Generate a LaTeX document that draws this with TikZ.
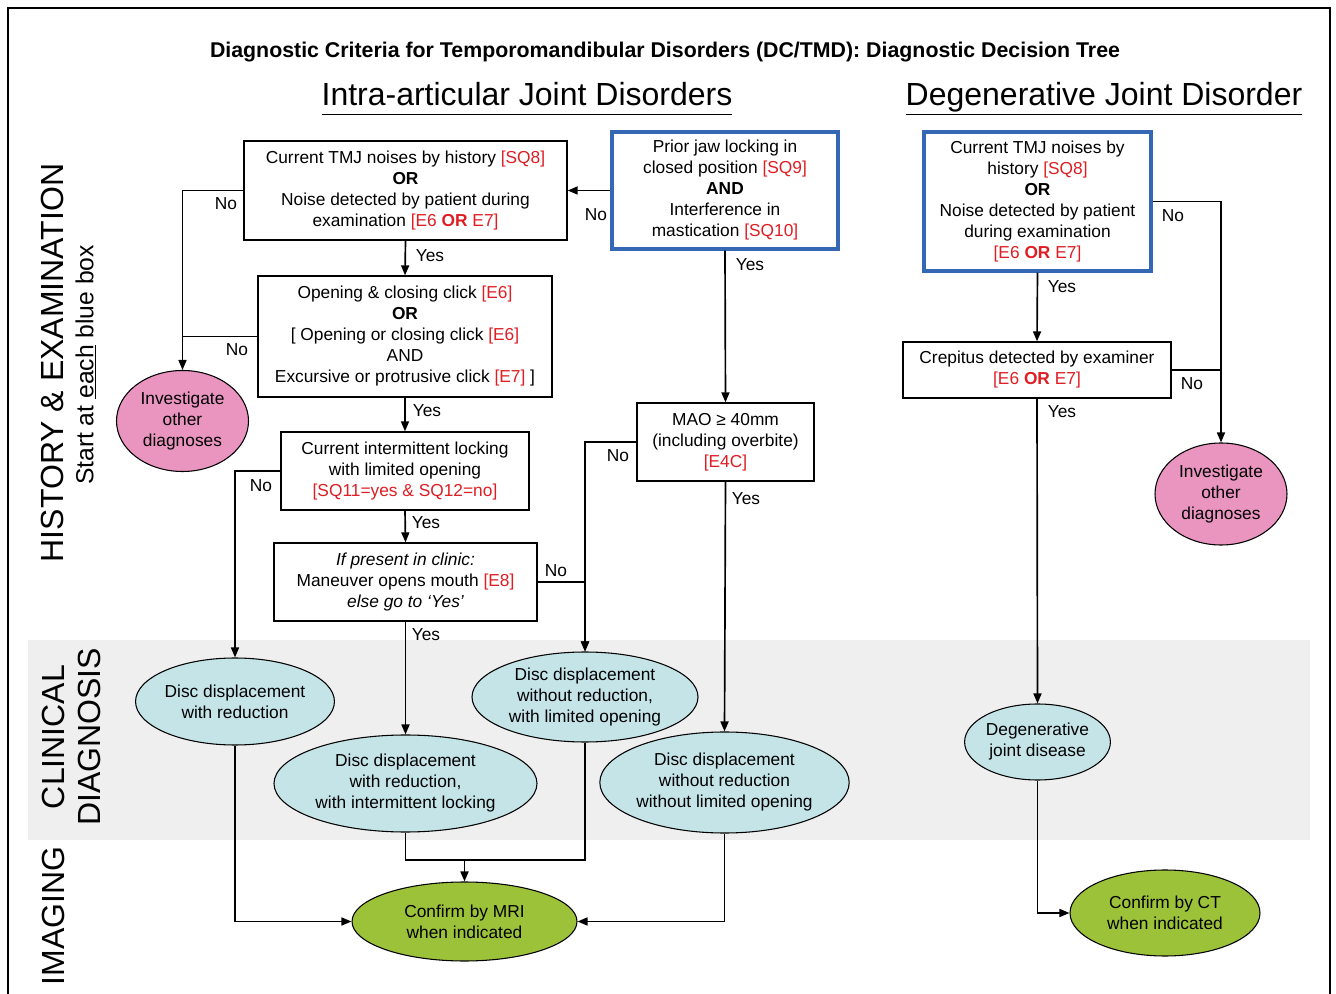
\documentclass[tikz,border=0pt]{standalone}
\usepackage{fontspec}
\setmainfont{Liberation Sans}
\usetikzlibrary{shapes.geometric,arrows.meta}
\definecolor{rd}{RGB}{222,30,36}
\definecolor{bl}{RGB}{52,104,180}
\definecolor{pk}{RGB}{234,148,192}
\definecolor{lb}{RGB}{196,228,232}
\definecolor{gr}{RGB}{156,194,58}
\definecolor{band}{RGB}{239,239,239}
\newcommand{\rt}[1]{\textcolor{rd}{#1}}
\begin{document}
\begin{tikzpicture}[x=0.75pt,y=-0.75pt,
  font=\fontsize{13}{15.75}\selectfont,
  sz/.style 2 args={minimum width=#1*0.75pt, minimum height=#2*0.75pt},
  box/.style={draw, line width=1pt, rectangle, align=center, inner sep=0pt},
  bbox/.style={draw=bl, line width=2.6pt, rectangle, align=center, inner sep=0pt},
  ell/.style={draw, line width=0.8pt, ellipse, align=center, inner sep=0pt},
  pinkell/.style={ell, fill=pk},
  blueell/.style={ell, fill=lb},
  greenell/.style={ell, fill=gr},
  lbl/.style={inner sep=0pt},
  big/.style={font=\fontsize{24}{28}\selectfont},
  conn/.style={line width=1.25pt},
  arr/.style={conn, -{Triangle[length=7.5pt,width=6pt]}}
]
\useasboundingbox (0,0) rectangle (1336,994);
% frame and band
\fill[band] (28,640) rectangle (1310,840);
\draw[line width=0.8pt] (8,994) -- (8,8) -- (1330,8) -- (1330,994);

% titles
\node[lbl, font=\fontsize{16}{19}\selectfont\bfseries] (title) at (665,52) {Diagnostic Criteria for Temporomandibular Disorders (DC/TMD): Diagnostic Decision Tree};
\node[lbl, big] (h1) at (527,99) {\underline{Intra-articular Joint Disorders\vphantom{g}}};
\node[lbl, big] (h2) at (1104,99) {\underline{Degenerative Joint Disorder\vphantom{g}}};

% side labels
\node[lbl, big, rotate=90] (sHE) at (52,363) {HISTORY \& EXAMINATION};
\node[lbl, font=\fontsize{18.5}{22}\selectfont, rotate=90] (sStart) at (86,365) {Start at \underline{each} blue box};
\node[lbl, big, rotate=90] (sCl) at (53,737) {CLINICAL};
\node[lbl, big, rotate=90] (sDi) at (89,737) {DIAGNOSIS};
\node[lbl, big, rotate=90] (sIm) at (53,916) {IMAGING};

% boxes
\node[box, sz={323}{99}] (A) at (405.5,190.5) {Current TMJ noises by history \rt{[SQ8]}\\ \textbf{OR}\\ Noise detected by patient during\\ examination \rt{[E6 \textbf{OR} E7]}};
\node[bbox, sz={226}{117}] (B) at (725,190.5) {Prior jaw locking in\\ closed position \rt{[SQ9]}\\ \textbf{AND}\\ Interference in\\ mastication \rt{[SQ10]}};
\node[box, sz={294}{121}] (C) at (405,336.5) {Opening \& closing click \rt{[E6]}\\ \textbf{OR}\\ {[} Opening or closing click \rt{[E6]}\\ AND\\ Excursive or protrusive click \rt{[E7]} ]};
\node[box, sz={248}{78}] (D) at (405,471) {Current intermittent locking\\ with limited opening\\ \rt{[SQ11=yes \& SQ12=no]}};
\node[box, sz={263}{78}] (E) at (405.5,582) {\itshape If present in clinic:\\ Maneuver opens mouth \rt{[E8]}\\ \itshape else go to ‘Yes’};
\node[box, sz={177}{78}] (F) at (725.5,442) {MAO ≥ 40mm\\ (including overbite)\\ \rt{[E4C]}};
\node[bbox, sz={227}{139}] (M) at (1037.5,201.5) {Current TMJ noises by\\ history \rt{[SQ8]}\\ \textbf{OR}\\ Noise detected by patient\\ during examination\\ \rt{[E6 \textbf{OR} E7]}};
\node[box, sz={268}{56}] (N) at (1037,370) {Crepitus detected by examiner\\ \rt{[E6 \textbf{OR} E7]}};

% ellipses
\node[pinkell, sz={132}{101}] (G) at (182.5,421) {Investigate\\ other\\ diagnoses};
\node[pinkell, sz={132}{102}] (O) at (1221,494) {Investigate\\ other\\ diagnoses};
\node[blueell, sz={169}{87}] (H) at (235,701.5) {Disc displacement\\ with reduction};
\node[blueell, sz={263}{97}] (I) at (405.5,783.5) {Disc displacement\\ with reduction,\\ with intermittent locking};
\node[blueell, sz={226}{90}] (J) at (585,697) {Disc displacement\\ without reduction,\\ with limited opening};
\node[blueell, sz={237}{101}] (K) at (724.5,782.5) {Disc displacement\\ without reduction\\ without limited opening};
\node[blueell, sz={143}{76}] (P) at (1037.5,742) {Degenerative\\ joint disease};
\node[greenell, sz={225}{79}] (L) at (464.5,921.5) {Confirm by MRI\\ when indicated};
\node[greenell, sz={190}{86}] (Q) at (1165,913) {Confirm by CT\\ when indicated};

% connectors
\draw[arr] (B.west) -- (A.east);
\draw[arr] (A.west) -| (G.north);
\draw[conn] (C.west) -- (C.west -| G.north);
\draw[arr] (A.south) -- (C.north);
\draw[arr] (C.south) -- (D.north);
\draw[arr] (D.south) -- (E.north);
\draw[arr] (E.south) -- (I.north);
\draw[arr] (D.west) -| (H.north);
\draw[arr] (E.east) -| (J.north);
\draw[arr] (F.west) -| (J.north);
\draw[arr] (B.south) -- (F.north);
\draw[arr] (F.south) -- (K.north);
\draw[arr] (H.south) |- (L.west);
\draw[arr] (K.south) |- (L.east);
\coordinate (jn) at (464.5,860);
\draw[conn] (I.south) |- (jn);
\draw[conn] (J.south) |- (jn);
\draw[arr] (jn) -- (L.north);
\draw[arr] (M.south) -- (N.north);
\draw[arr] (M.east) -| (O.north);
\draw[conn] (N.east) -- (N.east -| O.north);
\draw[arr] (N.south) -- (P.north);
\draw[arr] (P.south) |- (Q.west);

% yes/no labels
\node[lbl] (noBA) at (596,215) {No};
\node[lbl] (noAG) at (226,204) {No};
\node[lbl] (noCG) at (237,350) {No};
\node[lbl] (yesAC) at (430,256) {Yes};
\node[lbl] (yesCD) at (427,411) {Yes};
\node[lbl] (yesDE) at (426,523) {Yes};
\node[lbl] (yesEI) at (426,635) {Yes};
\node[lbl] (noDH) at (261,486) {No};
\node[lbl] (noEJ) at (556,571) {No};
\node[lbl] (noFJ) at (618,456) {No};
\node[lbl] (yesBF) at (750,265) {Yes};
\node[lbl] (yesFK) at (746,499) {Yes};
\node[lbl] (yesMN) at (1062,287) {Yes};
\node[lbl] (noMO) at (1173,216) {No};
\node[lbl] (noNO) at (1192,384) {No};
\node[lbl] (yesNP) at (1062,412) {Yes};
\end{tikzpicture}
\end{document}
